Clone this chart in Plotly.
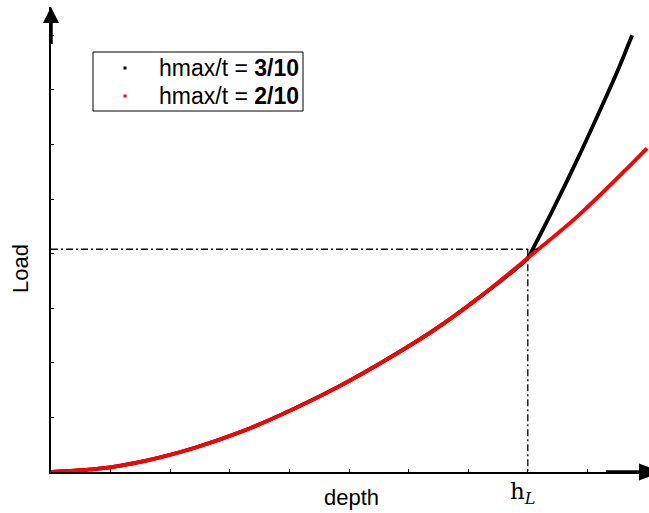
import plotly.graph_objects as go

# Load-depth curves for two hmax/t ratios (depth and load in axis units)
depth_red = [0.0, 0.8, 1.6, 2.4, 3.2, 4.0, 4.8, 5.6, 6.4, 7.2, 8.0, 8.8, 9.6, 10.0]
load_red = [0.0, 0.06, 0.21, 0.44, 0.74, 1.12, 1.55, 2.04, 2.58, 3.21, 3.92, 4.65, 5.49, 5.93]

depth_black = [0.0, 0.8, 1.6, 2.4, 3.2, 4.0, 4.8, 5.6, 6.4, 7.2, 8.0, 8.1, 8.42, 8.83, 9.21, 9.5, 9.75]
load_black = [0.0, 0.06, 0.21, 0.44, 0.74, 1.12, 1.55, 2.04, 2.58, 3.21, 3.92, 4.12, 4.80, 5.72, 6.62, 7.33, 8.0]

series_names = ["hmax/t = <b>3/10</b>", "hmax/t = <b>2/10</b>"]
series_colors = ["#000000", "#ff0000"]

# Limit depth h_L and the load reached there
h_L = 8.0
load_L = 4.08

x_ticks = [1, 2, 3, 4, 5, 6, 7, 8, 9]
y_ticks = [1, 2, 3, 4, 5, 6, 7, 8]

W, H = 649, 513
L, R, T, B = 51, 1, 7, 41
plot_w = W - L - R
plot_h = H - T - B
x_max = plot_w / 59.6
y_max = plot_h / 54.6

SANS = "Liberation Sans, Arial"


def xp(px):
    return (px - L) / plot_w


def yp(py):
    return (H - B - py) / plot_h


fig = go.Figure()

# curves (black first so the red one sits on top where they coincide)
fig.add_trace(go.Scatter(x=depth_black, y=load_black, mode="lines",
                         line=dict(color=series_colors[0], width=3.8, shape="spline",
                                   smoothing=0.8),
                         showlegend=False, hoverinfo="skip"))
fig.add_trace(go.Scatter(x=depth_red, y=load_red, mode="lines",
                         line=dict(color=series_colors[1], width=3.8, shape="spline",
                                   smoothing=0.8),
                         showlegend=False, hoverinfo="skip"))

# dash-dot guides at the limit depth
guide_dash = "7px,3px,2px,3px"
fig.add_trace(go.Scatter(x=[0, h_L * 1.027], y=[load_L, load_L], mode="lines",
                         line=dict(color="black", width=1.3, dash=guide_dash),
                         showlegend=False, hoverinfo="skip"))
fig.add_trace(go.Scatter(x=[h_L, h_L], y=[load_L, 0], mode="lines",
                         line=dict(color="black", width=1.3, dash=guide_dash),
                         showlegend=False, hoverinfo="skip"))

shapes = [
    # thicker shaft + arrowhead on the load axis
    dict(type="line", xref="paper", yref="paper", x0=0, x1=0, y0=yp(44), y1=yp(22),
         line=dict(color="black", width=3.5)),
    dict(type="path", xref="paper", yref="paper",
         path=f"M {xp(51)} {yp(7)} L {xp(43)} {yp(23)} L {xp(59)} {yp(23)} Z",
         fillcolor="black", line=dict(color="black", width=0)),
    # thicker shaft + arrowhead on the depth axis
    dict(type="line", xref="paper", yref="paper", x0=xp(606), x1=xp(641), y0=0, y1=0,
         line=dict(color="black", width=3.5)),
    dict(type="path", xref="paper", yref="paper",
         path=f"M {xp(662)} {yp(472)} L {xp(639)} {yp(463.5)} L {xp(639)} {yp(480.5)} Z",
         fillcolor="black", line=dict(color="black", width=0)),
    # legend frame
    dict(type="rect", xref="paper", yref="paper", x0=xp(93), x1=xp(303), y0=yp(111), y1=yp(52),
         fillcolor="white", line=dict(color="black", width=1), layer="above"),
]

annotations = [
    dict(text="Load", xref="paper", yref="paper", x=xp(20), y=yp(269), showarrow=False,
         textangle=-90, font=dict(family=SANS, size=22, color="black"),
         xanchor="center", yanchor="middle"),
    dict(text="depth", xref="paper", yref="paper", x=xp(351), y=yp(497), showarrow=False,
         font=dict(family=SANS, size=22, color="black"),
         xanchor="center", yanchor="middle"),
    dict(text="h<sub><i>L</i></sub>", xref="x", yref="paper", x=h_L, xshift=-5, y=yp(493),
         showarrow=False, font=dict(family="DejaVu Serif", size=23, color="black"),
         xanchor="center", yanchor="middle"),
]

# legend rows: small square dot + label
row_y = [68, 96]
for name, color, ry in zip(series_names, series_colors, row_y):
    shapes.append(dict(type="rect", xref="paper", yref="paper",
                       x0=xp(123.5), x1=xp(126.5), y0=yp(ry + 1.5), y1=yp(ry - 1.5),
                       fillcolor=color, line=dict(width=0), layer="above"))
    annotations.append(dict(text=name, xref="paper", yref="paper", x=xp(157), y=yp(ry),
                            showarrow=False, xanchor="left", yanchor="middle",
                            font=dict(family=SANS, size=23, color="black")))

fig.update_layout(
    width=W, height=H,
    margin=dict(l=L, r=R, t=T, b=B, pad=0),
    paper_bgcolor="white", plot_bgcolor="white",
    font=dict(family=SANS, size=22, color="black"),
    showlegend=False,
    xaxis=dict(range=[0, x_max], showgrid=False, zeroline=False, showline=True,
               linecolor="black", linewidth=2, ticks="inside", ticklen=3, tickwidth=1,
               tickcolor="black", tickvals=x_ticks, showticklabels=False, fixedrange=True),
    yaxis=dict(range=[0, y_max], showgrid=False, zeroline=False, showline=True,
               linecolor="black", linewidth=2, ticks="inside", ticklen=3, tickwidth=1,
               tickcolor="black", tickvals=y_ticks, showticklabels=False, fixedrange=True),
    shapes=shapes,
    annotations=annotations,
)

fig.write_html("out.html")
